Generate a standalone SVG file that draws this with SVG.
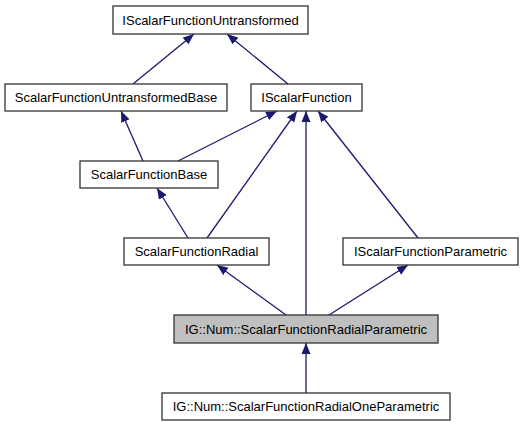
<svg xmlns="http://www.w3.org/2000/svg" width="523" height="427" viewBox="0 0 523 427">
<style>
.box{fill:#fff;stroke:#333;stroke-width:1.3}
.hl{fill:#bfbfbf}
.lbl{font-family:"Liberation Sans",Arial,sans-serif;font-size:13px;fill:#000;text-anchor:middle}
.edge{stroke:#191970;stroke-width:1.3;fill:none;marker-end:url(#ah)}
</style>
<defs>
<marker id="ah" markerUnits="userSpaceOnUse" markerWidth="12" markerHeight="10" refX="11" refY="4.5" orient="auto" viewBox="0 0 12 9">
<path d="M0,0 L11,4.5 L0,9 z" fill="#191970"/>
</marker>
</defs>
<rect width="523" height="427" fill="#fff"/>
<g id="edges">
<line class="edge" x1="133" y1="84" x2="194" y2="34"/>
<line class="edge" x1="288" y1="84" x2="227" y2="34"/>
<line class="edge" x1="143" y1="161" x2="121" y2="111"/>
<line class="edge" x1="178" y1="161" x2="277" y2="111"/>
<line class="edge" x1="207" y1="238" x2="297" y2="111"/>
<line class="edge" x1="306" y1="315" x2="306" y2="111"/>
<line class="edge" x1="418" y1="238" x2="318" y2="111"/>
<line class="edge" x1="188" y1="238" x2="157" y2="188"/>
<line class="edge" x1="286" y1="315" x2="217" y2="265"/>
<line class="edge" x1="329" y1="315" x2="408" y2="265"/>
<line class="edge" x1="306" y1="393" x2="306" y2="343"/>
</g>
<g id="ISFU"><rect class="box" x="113" y="6" width="195" height="28"/><text class="lbl" x="210.5" y="24.5">IScalarFunctionUntransformed</text></g>
<g id="SFUB"><rect class="box" x="5" y="84" width="222" height="27"/><text class="lbl" x="116" y="102">ScalarFunctionUntransformedBase</text></g>
<g id="ISF"><rect class="box" x="251" y="84" width="111" height="27"/><text class="lbl" x="306.5" y="102">IScalarFunction</text></g>
<g id="SFB"><rect class="box" x="80" y="161" width="138" height="27"/><text class="lbl" x="149" y="179">ScalarFunctionBase</text></g>
<g id="SFR"><rect class="box" x="124" y="238" width="145" height="27"/><text class="lbl" x="196.5" y="256">ScalarFunctionRadial</text></g>
<g id="ISFP"><rect class="box" x="343" y="238" width="175" height="27"/><text class="lbl" x="430.5" y="256">IScalarFunctionParametric</text></g>
<g id="SFRP"><rect class="box hl" x="174" y="315" width="264" height="28"/><text class="lbl" x="306" y="333.5">IG::Num::ScalarFunctionRadialParametric</text></g>
<g id="SFROP"><rect class="box" x="162" y="393" width="288" height="27"/><text class="lbl" x="306" y="411">IG::Num::ScalarFunctionRadialOneParametric</text></g>
</svg>
